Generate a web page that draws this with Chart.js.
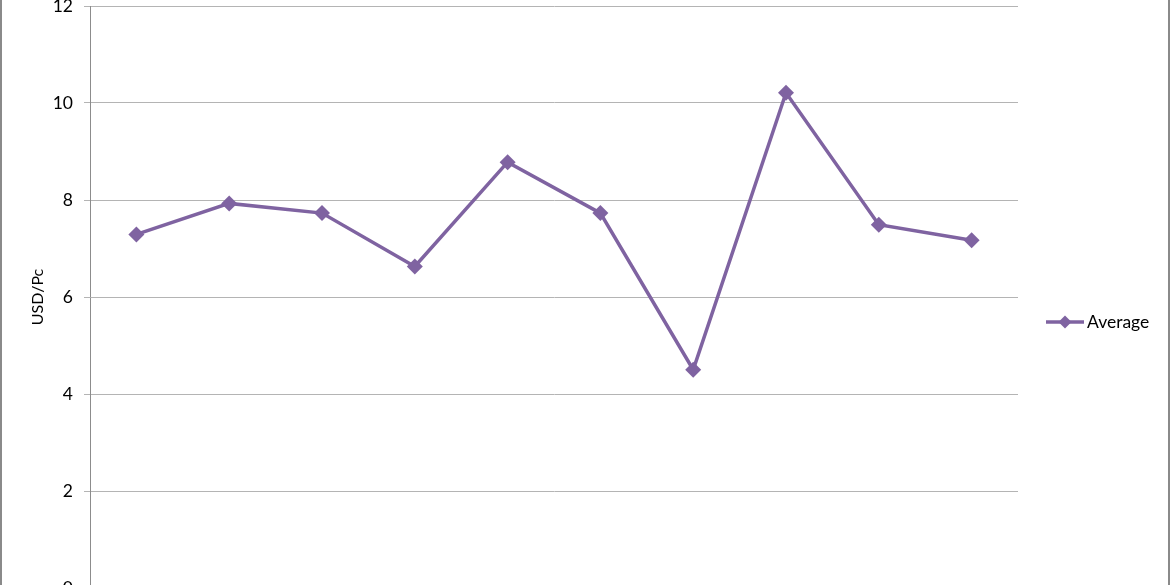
<!DOCTYPE html>
<html>
<head>
<meta charset="utf-8">
<script src="https://cdn.jsdelivr.net/npm/chart.js@4/dist/chart.umd.min.js"></script>
<style>
  html, body { margin: 0; padding: 0; background: #fff; overflow: hidden; }
  #wrap { position: relative; width: 1170px; height: 585px; overflow: hidden; background: #fff; }
  #chart { position: absolute; left: 0; top: -30px; }
  .edge { position: absolute; top: 0; width: 2px; height: 585px; background: #8a8a8a; }
</style>
</head>
<body>
<div id="wrap">
  <canvas id="chart" width="1170" height="640"></canvas>
  <div class="edge" style="left:0"></div>
  <div class="edge" style="left:1168px"></div>
</div>
<script>
document.addEventListener("DOMContentLoaded", () => {
  // data (x labels are cut off in the reference)
  const categories = ["1", "2", "3", "4", "5", "6", "7", "8", "9", "10"];
  const averageValues = [7.29, 7.93, 7.73, 6.63, 8.78, 7.73, 4.50, 10.21, 7.49, 7.17];
  const yTicks = [0, 2, 4, 6, 8, 10, 12];
  const seriesName = "Average";
  const yTitle = "USD/Pc";

  const purple = "#7f63a1";
  const fontFamily = "Lato, 'Liberation Sans', sans-serif";

  // legend drawn like the spreadsheet one: line with a diamond in the middle
  const sideLegend = {
    id: "sideLegend",
    afterDraw(chart) {
      const ctx = chart.ctx;
      const y = 352;
      const x0 = 1046, x1 = 1084;
      ctx.save();
      ctx.strokeStyle = purple;
      ctx.lineWidth = 3.5;
      ctx.beginPath();
      ctx.moveTo(x0, y);
      ctx.lineTo(x1, y);
      ctx.stroke();
      const cx = (x0 + x1) / 2, r = 6.5;
      ctx.fillStyle = purple;
      ctx.beginPath();
      ctx.moveTo(cx, y - r);
      ctx.lineTo(cx + r, y);
      ctx.lineTo(cx, y + r);
      ctx.lineTo(cx - r, y);
      ctx.closePath();
      ctx.fill();
      ctx.fillStyle = "#000";
      ctx.font = "17.5px " + fontFamily;
      ctx.textAlign = "left";
      ctx.textBaseline = "middle";
      ctx.fillText(chart.data.datasets[0].label, x1 + 3, y);
      ctx.restore();
    },
  };

  const ctx = document.getElementById("chart").getContext("2d");
  new Chart(ctx, {
    type: "line",
    data: {
      labels: categories,
      datasets: [
        {
          label: seriesName,
          data: averageValues,
          borderColor: purple,
          backgroundColor: purple,
          borderWidth: 3.5,
          pointStyle: "rectRot",
          pointRadius: 8,
          pointBorderWidth: 0,
          pointBackgroundColor: purple,
          tension: 0,
        },
      ],
    },
    options: {
      responsive: false,
      animation: false,
      layout: { padding: { top: 36, right: 152, bottom: 22, left: 0 } },
      plugins: {
        legend: { display: false },
        tooltip: { enabled: false },
      },
      scales: {
        x: {
          display: false,
          offset: true,
        },
        y: {
          min: 0,
          max: 12,
          afterBuildTicks: (scale) => {
            scale.ticks = yTicks.map((v) => ({ value: v }));
          },
          afterFit: (scale) => {
            scale.width = 90;
          },
          grid: {
            color: "#b4b4b4",
            lineWidth: 1,
            tickLength: 6,
            tickColor: "#b4b4b4",
          },
          border: { color: "#8c8c8c", width: 1 },
          ticks: {
            padding: 11,
            color: "#000",
            font: { family: fontFamily, size: 17.5 },
          },
          title: {
            display: true,
            text: yTitle,
            color: "#000",
            padding: { top: 28, bottom: 0 },
            font: { family: fontFamily, size: 16 },
          },
        },
      },
    },
    plugins: [sideLegend],
  });
});
</script>
</body>
</html>
